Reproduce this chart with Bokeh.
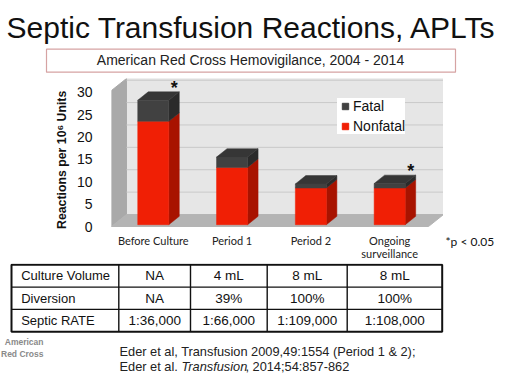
import numpy as np
from bokeh.plotting import figure
from bokeh.layouts import column, row
from bokeh.models import Range1d, FixedTicker, Legend, LegendItem
from bokeh.embed import file_html
from bokeh.resources import INLINE
from bokeh.core.properties import value

# ---------------- data ----------------
title_text = "Septic Transfusion Reactions, APLTs"
subtitle_text = "American Red Cross Hemovigilance, 2004 - 2014"
categories = ["Before Culture", "Period 1", "Period 2", "Ongoing\nsurveillance"]
nonfatal = [23.1, 12.8, 8.2, 8.2]
fatal = [4.7, 2.3, 0.9, 1.0]
significance = ["*", "", "", "*"]
y_ticks = [0, 5, 10, 15, 20, 25, 30]
y_axis_title = "Reactions per 10\u2076 Units"
series_names = ["Fatal", "Nonfatal"]
footnote = "*p < 0.05"
table_row_labels = ["Culture Volume", "Diversion", "Septic RATE"]
table_culture_volume = ["NA", "4 mL", "8 mL", "8 mL"]
table_diversion = ["NA", "39%", "100%", "100%"]
table_septic_rate = ["1:36,000", "1:66,000", "1:109,000", "1:108,000"]
citation_line1 = "Eder et al, Transfusion 2009,49:1554 (Period 1 & 2);"
citation_line2 = ["Eder et al. ", "Transfusion", ", 2014;54:857-862"]
logo_lines = ["American", "Red Cross"]

# ---------------- style ----------------
SANS_NAME = "Liberation Sans"
CAL_NAME = "Lato"
SANS = value(SANS_NAME)
CAL = value(CAL_NAME)
RED = "#f01f05"
RED_SIDE = "#a81300"
DARK = "#414141"
DARK_SIDE = "#2b2b2b"
DARK_TOP = "#363636"
WALL = "#e6e6e6"
SIDE_WALL = "#a9a9a9"
FLOOR = "#b4b4b4"
GRID = "#c9c9c9"
MID = 0.35  # distance (in em) from baseline to the middle of the text box


def bare(width, height, x_range, y_range):
    f = figure(width=width, height=height, x_range=x_range, y_range=y_range,
               x_axis_type=None, y_axis_type=None, output_backend="svg",
               toolbar_location=None, min_border=0, outline_line_color=None,
               background_fill_color="white", border_fill_color="white")
    return f


W = 510
CW = 443  # width of the chart figure
# ---------------- top: title + subtitle ----------------
top = bare(W, 78, Range1d(0, W), Range1d(78, 0))
top.text(x=[6], y=[37.5 - MID * 30], text=[title_text], text_font=SANS, text_font_size="30px",
         text_color="#111111", text_baseline="middle", text_align="left")
top.quad(left=[46], right=[455], top=[48.7], bottom=[71.7], fill_color="white",
         line_color="#d6a3a3", line_width=1.2)
top.text(x=[250], y=[64 - MID * 14], text=[subtitle_text], text_font=SANS, text_font_size="14px",
         text_color="#222222", text_baseline="middle", text_align="center")

# ---------------- chart ----------------
n = len(categories)
xc = np.arange(n, dtype=float)
nf = np.array(nonfatal)
tot = nf + np.array(fatal)

X0, X1 = -0.53, 3.683
Y0, Y1 = -0.22, 33.06
chart = figure(width=CW, height=185, x_range=Range1d(X0, X1), y_range=Range1d(Y0, Y1),
               min_border_left=111, min_border_right=0, min_border_top=0,
               min_border_bottom=36, output_backend="svg", toolbar_location=None,
               outline_line_color=None, background_fill_color="white",
               border_fill_color="white")
chart.grid.visible = False

DX, DY = 0.19, 2.68          # depth of the 3D box
XL, XR = X0, X1 - DX         # front-left / front-right
TOP = Y1
chart.patch([XL + DX, XR + DX, XR + DX, XL + DX], [DY, DY, TOP, TOP], fill_color=WALL, line_color=WALL)
chart.patch([XL, XL + DX, XL + DX, XL], [0, DY, TOP, TOP - DY], fill_color=SIDE_WALL, line_color=SIDE_WALL)
chart.patch([XL, XR, XR + DX, XL + DX], [0, 0, DY, DY], fill_color=FLOOR, line_color=FLOOR)
gl = [t + DY for t in y_ticks[1:]]
chart.segment(x0=[XL + DX] * len(gl), x1=[XR + DX] * len(gl), y0=gl, y1=gl,
              line_color=GRID, line_width=1)

hw = 0.197
bdx, bdy = 0.7 * DX, 0.7 * DY
y0 = 0.15 * DY


def side(bottoms, tops):
    xs = [[x + hw, x + hw + bdx, x + hw + bdx, x + hw] for x in xc]
    ys = [[b, b + bdy, t + bdy, t] for b, t in zip(bottoms, tops)]
    return xs, ys


sx, sy = side(y0 + np.zeros(n), y0 + nf)
chart.patches(sx, sy, fill_color=RED_SIDE, line_color=RED_SIDE, line_width=0.5)
sx, sy = side(y0 + nf, y0 + tot)
chart.patches(sx, sy, fill_color=DARK_SIDE, line_color=DARK_SIDE, line_width=0.5)
tx = [[x - hw, x + hw, x + hw + bdx, x - hw + bdx] for x in xc]
ty = [[t, t, t + bdy, t + bdy] for t in y0 + tot]
chart.patches(tx, ty, fill_color=DARK_TOP, line_color=DARK_TOP, line_width=0.5)
chart.quad(left=xc - hw, right=xc + hw, bottom=y0, top=y0 + nf,
           fill_color=RED, line_color=RED, line_width=0.5)
chart.quad(left=xc - hw, right=xc + hw, bottom=y0 + nf, top=y0 + tot,
           fill_color=DARK, line_color=DARK, line_width=0.5)

# significance stars
chart.text(x=xc + hw + bdx, y=y0 + tot + bdy, text=significance, text_font=SANS,
           text_font_size="18px", text_font_style="bold", text_color="#111111",
           text_align="center", text_baseline="middle", x_offset=-5, y_offset=-4)

# legend
r_f = chart.scatter(x=[np.nan], y=[np.nan], marker="square", size=7, fill_color=DARK, line_color=DARK)
r_n = chart.scatter(x=[np.nan], y=[np.nan], marker="square", size=7, fill_color=RED, line_color=RED)
legend = Legend(items=[LegendItem(label=series_names[0], renderers=[r_f]),
                       LegendItem(label=series_names[1], renderers=[r_n])],
                location=(226, 93), orientation="vertical", glyph_width=16, glyph_height=16,
                label_height=16, label_standoff=0, spacing=4, padding=4, margin=0,
                border_line_color=None, background_fill_color="white",
                background_fill_alpha=1.0, label_text_font=SANS_NAME,
                label_text_font_size="14px", label_text_color="#111111")
chart.add_layout(legend)

# axes
chart.yaxis.ticker = FixedTicker(ticks=y_ticks)
chart.yaxis.axis_line_color = None
chart.yaxis.major_tick_line_color = None
chart.yaxis.minor_tick_line_color = None
chart.yaxis.major_label_standoff = 13
chart.yaxis.major_label_text_font = SANS_NAME
chart.yaxis.major_label_text_font_size = "14px"
chart.yaxis.major_label_text_color = "#111111"
chart.yaxis.axis_label = y_axis_title + "\u00a0" * 4
chart.yaxis.axis_label_text_font = SANS_NAME
chart.yaxis.axis_label_text_font_size = "12.3px"
chart.yaxis.axis_label_text_font_style = "bold"
chart.yaxis.axis_label_text_color = "#111111"
chart.yaxis.axis_label_standoff = 5

chart.xaxis.ticker = FixedTicker(ticks=list(range(n)))
chart.xaxis.major_label_overrides = {i: c for i, c in enumerate(categories)}
chart.xaxis.axis_line_color = None
chart.xaxis.major_tick_line_color = None
chart.xaxis.minor_tick_line_color = None
chart.xaxis.major_tick_out = 0
chart.xaxis.major_label_standoff = 6
chart.xaxis.major_label_text_line_height = 1.0
chart.xaxis.major_label_text_font = CAL_NAME
chart.xaxis.major_label_text_font_size = "11px"
chart.xaxis.major_label_text_color = "#222222"

# right side of the chart: footnote
side_fig = bare(W - CW, 185, Range1d(0, W - CW), Range1d(185, 0))
side_fig.text(x=[2], y=[167 - MID * 12], text=[footnote], text_font=CAL, text_font_size="12px",
              text_color="#111111", text_baseline="middle", text_align="left")

# ---------------- bottom: table + citation ----------------
bot = bare(W, 119, Range1d(0, W), Range1d(119, 0))
x_edges = [11, 118.3, 190, 266.7, 346.7, 441.7]
y_edges = [1.3, 23.6, 45.9, 68.2]
bot.quad(left=[x_edges[0]], right=[x_edges[-1]], top=[y_edges[0]], bottom=[y_edges[-1]],
         fill_color="white", line_color="#111111", line_width=2)
bot.segment(x0=x_edges[1:-1], x1=x_edges[1:-1], y0=[y_edges[0]] * 4, y1=[y_edges[-1]] * 4,
            line_color="#111111", line_width=1.4)
bot.segment(x0=[x_edges[0]] * 2, x1=[x_edges[-1]] * 2, y0=y_edges[1:-1], y1=y_edges[1:-1],
            line_color="#111111", line_width=1.4)
rows_vals = [table_culture_volume, table_diversion, table_septic_rate]
ymid = [(a + b) / 2 for a, b in zip(y_edges[:-1], y_edges[1:])]
bot.text(x=[x_edges[0] + 9.7] * 3, y=ymid, text=table_row_labels, text_font=SANS,
         text_font_size="13px", text_color="#111111", text_baseline="middle", text_align="left")
cx, cy, ct = [], [], []
for r, vals in enumerate(rows_vals):
    for c, v in enumerate(vals):
        cx.append((x_edges[c + 1] + x_edges[c + 2]) / 2)
        cy.append(ymid[r])
        ct.append(v)
bot.text(x=cx, y=cy, text=ct, text_font=SANS, text_font_size="13.5px", text_color="#111111",
         text_baseline="middle", text_align="center")

CIT = 12.8
bot.text(x=[119], y=[92 - MID * CIT], text=[citation_line1], text_font=SANS,
         text_font_size=f"{CIT}px", text_color="#222222", text_baseline="middle",
         text_align="left")
x2 = [119, 119 + 4.836 * CIT, 119 + (4.836 + 5.0) * CIT]
for xx, t, st in zip(x2, citation_line2, ["normal", "italic", "normal"]):
    bot.text(x=[xx], y=[107 - MID * CIT], text=[t], text_font=SANS, text_font_size=f"{CIT}px",
             text_font_style=st, text_color="#222222", text_baseline="middle",
             text_align="left")
LOGO = 8.5
bot.text(x=[43, 43], y=[81.3 - MID * LOGO, 93 - MID * LOGO], text=logo_lines, text_font=SANS,
         text_font_size=f"{LOGO}px", text_font_style="bold", text_color="#8a8a8a",
         text_baseline="middle", text_align="right")

# nesting in row/column wrappers keeps Bokeh from aligning the figures' frames
layout = column(row(top), row(chart, column(side_fig)), row(bot))
open("out.html", "w").write(file_html(layout, INLINE))
